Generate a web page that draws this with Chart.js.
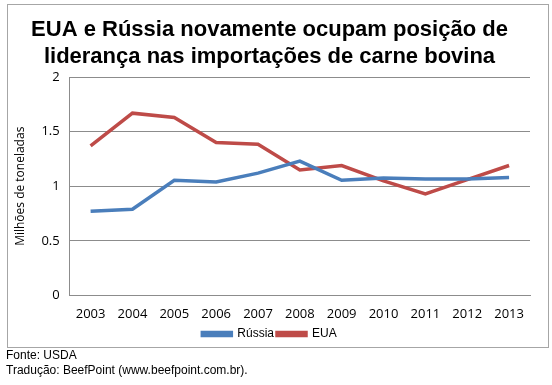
<!DOCTYPE html>
<html>
<head>
<meta charset="utf-8">
<script src="https://cdn.jsdelivr.net/npm/chart.js@4"></script>
<style>
  body { margin: 0; background: #fff; width: 552px; height: 385px; position: relative; font-family: "Liberation Sans", Arial, sans-serif; }
  #box { position: absolute; left: 7px; top: 4px; width: 540px; height: 342px; border: 1px solid #a6a6a6; }
  #wrap { position: absolute; left: 0; top: 0; width: 540px; height: 345px; }
  .note { position: absolute; left: 6px; font-size: 12px; color: #000; }
</style>
</head>
<body>
<div id="box"><div id="wrap"><canvas id="c"></canvas></div></div>
<div class="note" style="top:348px">Fonte: USDA</div>
<div class="note" style="top:363px">Tradução: BeefPoint (www.beefpoint.com.br).</div>
<script>
const years = ['2003','2004','2005','2006','2007','2008','2009','2010','2011','2012','2013'];
const russia = [0.77, 0.79, 1.055, 1.04, 1.12, 1.23, 1.055, 1.075, 1.067, 1.067, 1.08];
const eua = [1.37, 1.67, 1.63, 1.40, 1.385, 1.15, 1.19, 1.05, 0.93, 1.06, 1.19];
const titleLines = ['EUA e Rússia novamente ocupam posição de', 'liderança nas importações de carne bovina'];

const tickFont = { family: '"Open Sans", sans-serif', size: 13 };

new Chart(document.getElementById('c'), {
  type: 'line',
  data: {
    labels: years,
    datasets: [
      { label: 'Rússia', data: russia, borderColor: '#4a7ebb', backgroundColor: '#4a7ebb', borderWidth: 3.5, pointRadius: 0, tension: 0 },
      { label: 'EUA', data: eua, borderColor: '#be4b48', backgroundColor: '#be4b48', borderWidth: 3.5, pointRadius: 0, tension: 0 }
    ]
  },
  options: {
    responsive: true,
    maintainAspectRatio: false,
    animation: false,
    layout: { padding: { left: 1, right: 18, top: 11, bottom: 0 } },
    plugins: {
      title: {
        display: true,
        text: titleLines,
        color: '#000',
        font: { family: '"Liberation Sans", Arial, sans-serif', size: 22, weight: 'bold', lineHeight: 1.23 },
        padding: { top: 0, bottom: 7 }
      },
      legend: {
        position: 'bottom',
        labels: {
          boxWidth: 29,
          boxHeight: 3,
          padding: 3,
          color: '#000',
          font: { family: '"Liberation Sans", Arial, sans-serif', size: 12 }
        }
      },
      tooltip: { enabled: false }
    },
    scales: {
      x: {
        offset: true,
        grid: { display: false },
        border: { color: '#8c8c8c' },
        ticks: { color: '#000', font: tickFont, maxRotation: 0, autoSkip: false }
      },
      y: {
        min: 0,
        max: 2,
        ticks: { stepSize: 0.5, color: '#000', font: tickFont, padding: 10, callback: v => String(v) },
        grid: { color: '#8c8c8c', drawTicks: false },
        border: { color: '#8c8c8c' },
        title: { display: true, text: 'Milhões de toneladas', color: '#000', font: { family: '"Open Sans", sans-serif', size: 12 } }
      }
    }
  }
});
</script>
</body>
</html>
